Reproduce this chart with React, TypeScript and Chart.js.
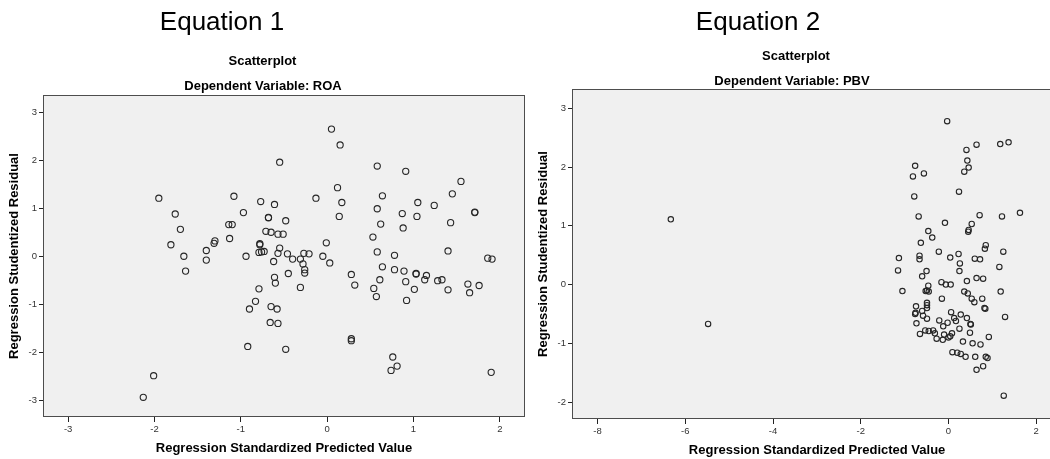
import React, { useEffect, useRef } from "react";
import { Chart, registerables } from "chart.js";

Chart.register(...registerables);

// ---------- DATA ----------
// Equation 1 (Dependent Variable: ROA)
const eq1X = [
  -1.95, -1.76, -1.70, -1.81, -1.66, -1.64, -1.40, -1.40, -1.31, -1.30,
  -1.13, -1.14, -1.10, -1.08, -0.97, -0.94, -0.77, -0.68, -0.68, -0.71,
  -0.78, -0.78, -0.79, -0.76, -0.73, -0.79, -0.83, -0.90, -0.92, -2.01,
  -2.13, 0.05, 0.15, -0.55, 0.58, 0.91, 1.55, 0.12, 1.45, 0.64,
  -0.13, -0.61, 0.17, 1.05, 1.24, 0.58, 0.87, 1.04, -0.48, 0.14,
  1.71, 1.71, 0.62, 1.43, 0.88, -0.65, -0.57, -0.51, 0.53, -0.01,
  -0.55, -0.57, -0.46, -0.27, -0.21, -0.05, 0.58, 0.78, 1.40, -0.40,
  -0.31, -0.62, -0.28, 0.03, 1.86, 1.91, 0.64, 0.78, 0.89, 1.03,
  1.03, 1.15, -0.26, -0.26, -0.45, -0.61, 0.28, -0.60, -0.31, 0.32,
  0.54, 0.57, 0.61, 0.91, 1.01, 0.92, 1.13, 1.28, 1.33, 1.40,
  1.63, 1.65, 1.76, -0.65, -0.58, -0.66, -0.57, -0.48, 0.28, 0.28,
  0.76, 0.74, 0.81, 1.90,
];
const eq1Y = [
  1.21, 0.88, 0.56, 0.24, 0.00, -0.31, 0.12, -0.08, 0.27, 0.32,
  0.37, 0.66, 0.66, 1.25, 0.91, 0.00, 1.14, 0.80, 0.81, 0.52,
  0.24, 0.26, 0.08, 0.09, 0.10, -0.68, -0.94, -1.10, -1.88, -2.49,
  -2.94, 2.65, 2.32, 1.96, 1.88, 1.77, 1.56, 1.43, 1.30, 1.26,
  1.21, 1.08, 1.12, 1.12, 1.06, 0.99, 0.89, 0.83, 0.74, 0.83,
  0.91, 0.92, 0.67, 0.70, 0.59, 0.50, 0.46, 0.46, 0.40, 0.28,
  0.17, 0.06, 0.05, 0.06, 0.05, 0.00, 0.09, 0.02, 0.11, -0.06,
  -0.06, -0.11, -0.16, -0.14, -0.04, -0.06, -0.22, -0.28, -0.31, -0.36,
  -0.37, -0.40, -0.28, -0.35, -0.36, -0.44, -0.38, -0.56, -0.65, -0.60,
  -0.67, -0.84, -0.49, -0.53, -0.69, -0.92, -0.49, -0.51, -0.49, -0.70,
  -0.58, -0.76, -0.61, -1.05, -1.10, -1.38, -1.40, -1.94, -1.72, -1.76,
  -2.10, -2.38, -2.29, -2.42,
];

// Equation 2 (Dependent Variable: PBV)
const eq2X = [
  -6.33, -5.48, -0.03, 0.64, 0.41, 1.18, 1.37, 0.43, 0.46, 0.36,
  -0.76, -0.81, -0.56, 0.24, -0.78, 1.63, -0.68, 0.71, 1.22, -0.08,
  0.53, 0.46, 0.45, -0.46, -0.37, -0.63, 0.85, 0.83, -0.22, 1.25,
  -1.13, -0.66, -0.66, 0.04, 0.23, 0.60, 0.72, 0.26, -1.15, -0.50,
  0.25, 1.16, -0.60, 0.64, 0.79, -0.16, -0.06, 0.05, 0.42, -0.46,
  -1.05, -0.52, -0.45, -0.49, 0.36, 0.44, -0.15, 0.53, 0.59, 0.77,
  1.19, -0.49, -0.49, -0.74, -0.49, 0.82, 0.84, -0.60, -0.76, -0.75,
  -0.58, 1.29, 0.06, 0.28, -0.49, -0.21, -0.02, 0.17, 0.13, 0.42,
  0.50, 0.51, -0.73, -0.12, 0.25, 0.49, -0.53, -0.45, -0.35, -0.65,
  -0.31, -0.27, -0.13, -0.10, 0.00, 0.04, 0.08, 0.92, 0.33, 0.55,
  0.73, 0.09, 0.20, 0.28, 0.39, 0.61, 0.85, 0.89, 0.79, 0.64,
  1.26,
];
const eq2Y = [
  1.11, -0.67, 2.78, 2.38, 2.29, 2.39, 2.42, 2.11, 1.99, 1.92,
  2.02, 1.84, 1.89, 1.58, 1.50, 1.22, 1.16, 1.18, 1.16, 1.05,
  1.03, 0.93, 0.90, 0.91, 0.80, 0.71, 0.67, 0.61, 0.56, 0.56,
  0.45, 0.49, 0.43, 0.46, 0.52, 0.44, 0.43, 0.36, 0.24, 0.23,
  0.23, 0.30, 0.14, 0.11, 0.10, 0.04, 0.00, 0.00, 0.06, -0.02,
  -0.11, -0.11, -0.12, -0.10, -0.12, -0.15, -0.24, -0.24, -0.30, -0.24,
  -0.12, -0.31, -0.35, -0.37, -0.40, -0.40, -0.41, -0.45, -0.50, -0.48,
  -0.53, -0.55, -0.47, -0.51, -0.58, -0.61, -0.65, -0.62, -0.57, -0.57,
  -0.67, -0.68, -0.66, -0.71, -0.75, -0.82, -0.78, -0.79, -0.78, -0.84,
  -0.83, -0.92, -0.94, -0.85, -0.90, -0.88, -0.83, -0.89, -0.97, -1.00,
  -1.02, -1.15, -1.16, -1.18, -1.23, -1.23, -1.23, -1.25, -1.39, -1.45,
  -1.89,
];

const eq1XTicks = [-3, -2, -1, 0, 1, 2];
const eq1YTicks = [-3, -2, -1, 0, 1, 2, 3];
const eq2XTicks = [-8, -6, -4, -2, 0, 2];
const eq2YTicks = [-2, -1, 0, 1, 2, 3];

const xTitle = "Regression Standardized Predicted Value";
const yTitle = "Regression Studentized Residual";

const FONT = "'Liberation Sans', Arial, Helvetica, sans-serif";

type PanelProps = {
  xs: number[];
  ys: number[];
  xTicks: number[];
  yTicks: number[];
  xMin: number;
  xMax: number;
  yMin: number;
  yMax: number;
  width: number;
  height: number;
  padTop: number;
  padRight: number;
  yAxisWidth: number;
  xAxisHeight: number;
  yTitlePad: number;
  xTitlePad: number;
  radius: number;
};

const framePlugin = {
  id: "spssFrame",
  beforeDraw(chart: any) {
    const { ctx, chartArea } = chart;
    ctx.save();
    ctx.fillStyle = "#f0f0f0";
    ctx.fillRect(chartArea.left, chartArea.top, chartArea.right - chartArea.left, chartArea.bottom - chartArea.top);
    ctx.restore();
  },
  afterDraw(chart: any) {
    const { ctx, chartArea } = chart;
    ctx.save();
    ctx.strokeStyle = "#4d4d4d";
    ctx.lineWidth = 1;
    ctx.strokeRect(
      Math.round(chartArea.left) - 0.5,
      Math.round(chartArea.top) - 0.5,
      Math.round(chartArea.right - chartArea.left) + 1,
      Math.round(chartArea.bottom - chartArea.top) + 1
    );
    ctx.restore();
  },
};

function Panel(p: PanelProps) {
  const ref = useRef<HTMLCanvasElement | null>(null);
  useEffect(() => {
    if (!ref.current) return;
    const pts = p.xs.map((x, i) => ({ x, y: p.ys[i] }));
    const chart = new Chart(ref.current, {
      type: "scatter",
      data: {
        datasets: [
          {
            data: pts,
            pointStyle: "circle",
            pointRadius: p.radius,
            pointHoverRadius: p.radius,
            pointBorderWidth: 1.1,
            pointBorderColor: "#262626",
            pointBackgroundColor: "rgba(0,0,0,0)",
            showLine: false,
          },
        ],
      },
      options: {
        animation: false,
        responsive: false,
        devicePixelRatio: 1,
        events: [],
        layout: { padding: { top: p.padTop, right: p.padRight, bottom: 0, left: 0 } },
        plugins: { legend: { display: false }, tooltip: { enabled: false }, title: { display: false } },
        scales: {
          x: {
            type: "linear",
            position: "bottom",
            min: p.xMin,
            max: p.xMax,
            afterBuildTicks: (s: any) => {
              s.ticks = p.xTicks.map((v) => ({ value: v }));
            },
            afterFit: (s: any) => {
              s.height = p.xAxisHeight;
            },
            grid: { display: true, drawOnChartArea: false, drawTicks: true, tickLength: 6, color: "#222", lineWidth: 1 },
            border: { display: false },
            ticks: { font: { family: FONT, size: 9.5 }, color: "#333", padding: 2, maxRotation: 0, autoSkip: false },
            title: {
              display: true,
              text: xTitle,
              font: { family: FONT, size: 13, weight: "bold" },
              color: "#000",
              padding: { top: 0, bottom: p.xTitlePad },
            },
          },
          y: {
            type: "linear",
            position: "left",
            min: p.yMin,
            max: p.yMax,
            afterBuildTicks: (s: any) => {
              s.ticks = p.yTicks.map((v) => ({ value: v }));
            },
            afterFit: (s: any) => {
              s.width = p.yAxisWidth;
            },
            grid: { display: true, drawOnChartArea: false, drawTicks: true, tickLength: 5, color: "#222", lineWidth: 1 },
            border: { display: false },
            ticks: { font: { family: FONT, size: 9.5 }, color: "#333", padding: 2, autoSkip: false },
            title: {
              display: true,
              text: yTitle,
              font: { family: FONT, size: 13, weight: "bold" },
              color: "#000",
              padding: { top: p.yTitlePad, bottom: 0 },
            },
          },
        },
      } as any,
      plugins: [framePlugin],
    });
    return () => chart.destroy();
  }, []);
  return (
    <canvas
      ref={ref}
      width={p.width}
      height={p.height}
      style={{ display: "block", width: p.width + "px", height: p.height + "px" }}
    />
  );
}

function Label(props: { text: string; cx: number; top: number; size: number; bold?: boolean }) {
  return (
    <div
      style={{
        position: "absolute",
        left: props.cx + "px",
        top: props.top + "px",
        transform: "translateX(-50%)",
        whiteSpace: "nowrap",
        fontFamily: FONT,
        fontSize: props.size + "px",
        lineHeight: props.size + "px",
        fontWeight: props.bold ? "bold" : "normal",
        color: "#000",
      }}
    >
      {props.text}
    </div>
  );
}

export default function App() {
  return (
    <div
      style={{
        position: "absolute",
        left: 0,
        top: 0,
        width: "1050px",
        height: "459px",
        overflow: "hidden",
        background: "#fff",
      }}
    >
      <div style={{ position: "absolute", left: 0, top: 0, width: "530px", height: "459px" }}>
        <Panel
          xs={eq1X}
          ys={eq1Y}
          xTicks={eq1XTicks}
          yTicks={eq1YTicks}
          xMin={-3.28}
          xMax={2.28}
          yMin={-3.33}
          yMax={3.34}
          width={530}
          height={459}
          padTop={96}
          padRight={6}
          yAxisWidth={44}
          xAxisHeight={43}
          yTitlePad={7}
          xTitlePad={3}
          radius={3.1}
        />
      </div>
      <div style={{ position: "absolute", left: "530px", top: 0, width: "535px", height: "459px" }}>
        <Panel
          xs={eq2X}
          ys={eq2Y}
          xTicks={eq2XTicks}
          yTicks={eq2YTicks}
          xMin={-8.56}
          xMax={2.57}
          yMin={-2.27}
          yMax={3.31}
          width={535}
          height={459}
          padTop={90}
          padRight={3}
          yAxisWidth={43}
          xAxisHeight={41}
          yTitlePad={5.5}
          xTitlePad={1}
          radius={2.7}
        />
      </div>
      <Label text="Equation 1" cx={222} top={8} size={26} />
      <Label text="Equation 2" cx={758} top={8} size={26} />
      <Label text="Scatterplot" cx={262.5} top={54} size={13} bold />
      <Label text="Dependent Variable: ROA" cx={263} top={79} size={13} bold />
      <Label text="Scatterplot" cx={796} top={49} size={13} bold />
      <Label text="Dependent Variable: PBV" cx={792} top={74} size={13} bold />
    </div>
  );
}
